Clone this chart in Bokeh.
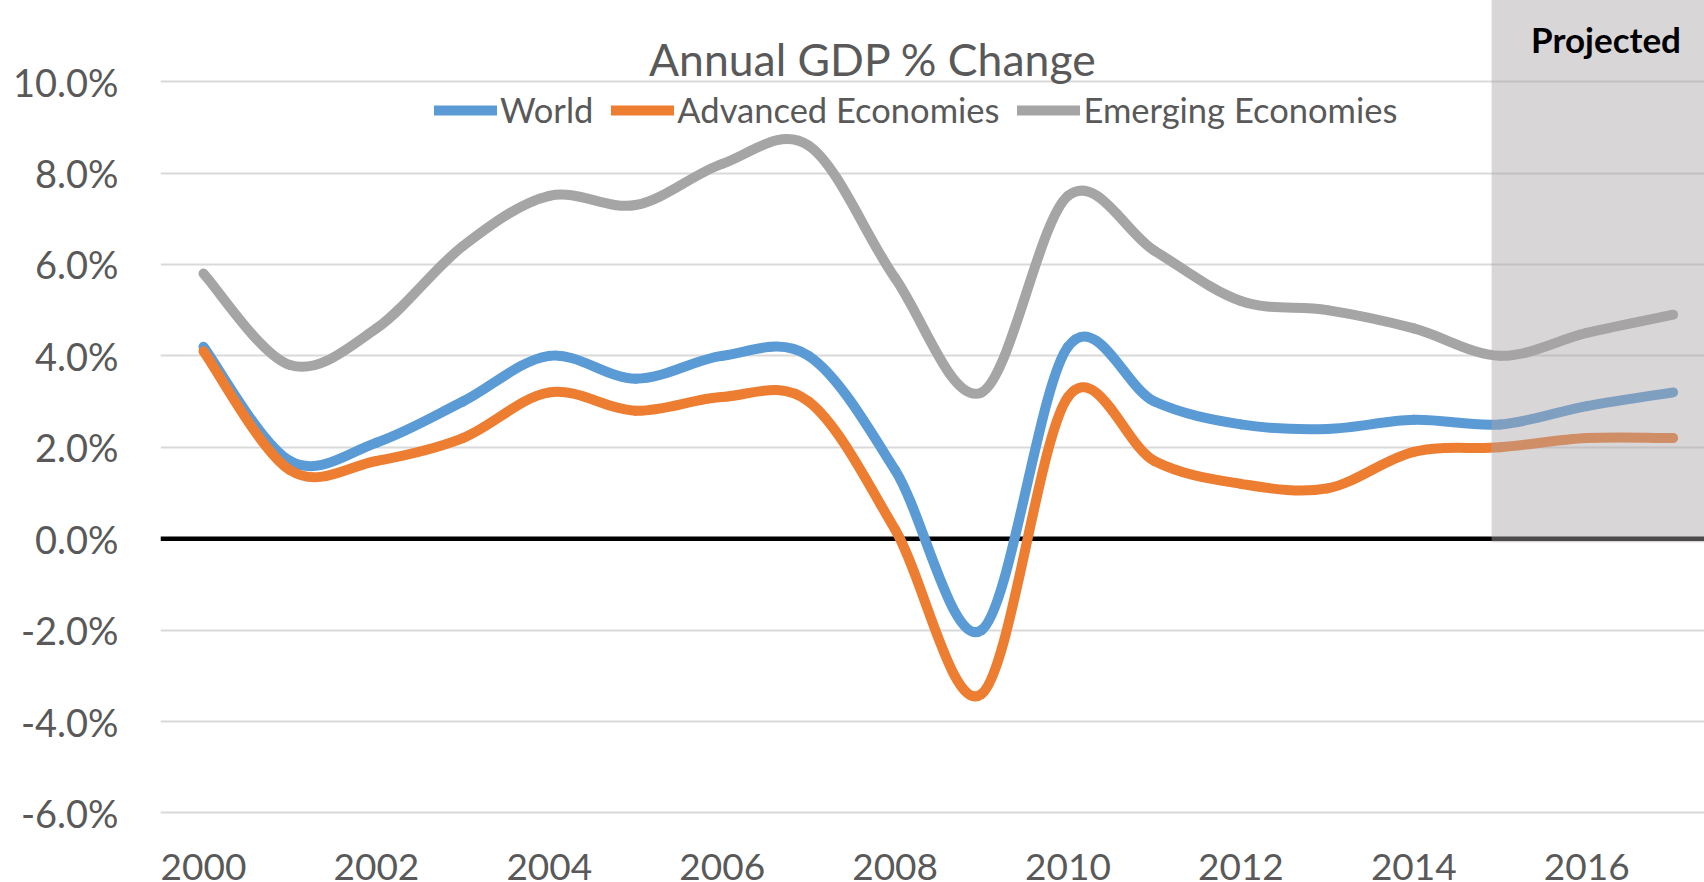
from bokeh.plotting import figure
from bokeh.models import (Range1d, FixedTicker, PrintfTickFormatter, Span, Label,
                          Legend, LegendItem)
from bokeh.embed import file_html
from bokeh.resources import INLINE

# ---------------- data ----------------
years = list(range(2000, 2018))
world = [4.2, 1.7, 2.1, 3.0, 4.0, 3.5, 4.0, 4.0, 1.5, -2.0, 4.2, 3.0, 2.5, 2.4, 2.6, 2.5, 2.9, 3.2]
advanced = [4.1, 1.5, 1.7, 2.2, 3.2, 2.8, 3.1, 3.0, 0.2, -3.4, 3.1, 1.7, 1.2, 1.1, 1.9, 2.0, 2.2, 2.2]
emerging = [5.8, 3.8, 4.6, 6.4, 7.5, 7.3, 8.2, 8.6, 5.7, 3.2, 7.5, 6.3, 5.2, 5.0, 4.6, 4.0, 4.5, 4.9]
series_names = ["World", "Advanced Economies", "Emerging Economies"]
series_colors = ["#5B9BD5", "#ED7D31", "#A5A5A5"]
y_ticks = [-6, -4, -2, 0, 2, 4, 6, 8, 10]
x_ticks = [2000, 2002, 2004, 2006, 2008, 2010, 2012, 2014, 2016]
projected_from = 2014.9
title_text = "Annual GDP % Change"
projected_text = "Projected"

TEXT = "#595959"
FONT = "Lato"

X0 = 1999.5026
X1 = 2017.3626
Y0 = -6.822
Y1 = 11.774
p = figure(width=1704, height=882, output_backend="svg", toolbar_location=None,
           x_range=Range1d(X0, X1), y_range=Range1d(Y0, Y1),
           min_border_left=160, min_border_right=0, min_border_top=0,
           min_border_bottom=0)
p.title.visible = False
p.outline_line_color = None
p.background_fill_color = "white"
p.border_fill_color = "white"

# axes
for ax in (p.xaxis, p.yaxis):
    ax.axis_line_color = None
    ax.major_tick_line_color = None
    ax.minor_tick_line_color = None
    ax.major_tick_out = 0
    ax.major_tick_in = 0
    ax.major_label_text_font = FONT
    ax.major_label_text_color = TEXT
p.xaxis.major_label_text_font_size = "37px"
p.yaxis.major_label_text_font_size = "38px"
p.xaxis.ticker = FixedTicker(ticks=x_ticks)
p.xaxis.major_label_standoff = 3
p.yaxis.ticker = FixedTicker(ticks=y_ticks)
p.yaxis.formatter = PrintfTickFormatter(format="%.1f%%")
p.yaxis.major_label_standoff = 42

p.xgrid.visible = False
p.ygrid.ticker = FixedTicker(ticks=y_ticks)
p.ygrid.grid_line_color = "#D9D9D9"
p.ygrid.grid_line_width = 2

zero = Span(location=0, dimension="width", line_color="black", line_width=4.5,
            level="underlay")
p.add_layout(zero)


# smoothed lines (Excel-like smoothing: cubic Bezier segments through the points)
def smooth_segments(xs, ys):
    n = len(xs)
    seg = dict(x0=[], y0=[], x1=[], y1=[], cx0=[], cy0=[], cx1=[], cy1=[])
    for i in range(n - 1):
        a = max(i - 1, 0)
        d = min(i + 2, n - 1)
        seg["x0"].append(xs[i]); seg["y0"].append(ys[i])
        seg["x1"].append(xs[i + 1]); seg["y1"].append(ys[i + 1])
        seg["cx0"].append(xs[i] + (xs[i + 1] - xs[a]) / 6.0)
        seg["cy0"].append(ys[i] + (ys[i + 1] - ys[a]) / 6.0)
        seg["cx1"].append(xs[i + 1] - (xs[d] - xs[i]) / 6.0)
        seg["cy1"].append(ys[i + 1] - (ys[d] - ys[i]) / 6.0)
    return seg


items = []
for name, vals, col in zip(series_names, [world, advanced, emerging], series_colors):
    r = p.bezier(source=smooth_segments(years, vals), x0="x0", y0="y0", x1="x1", y1="y1",
                 cx0="cx0", cy0="cy0", cx1="cx1", cy1="cy1",
                 line_color=col, line_width=10, line_cap="round")
    items.append(LegendItem(label=name, renderers=[r]))

# projected shading (semi-transparent, drawn over the lines)
p.quad(left=[projected_from], right=[X1 + 1], bottom=[-0.08], top=[Y1 + 1],
       fill_color=(171, 164, 168), fill_alpha=0.45, line_color=None, level="annotation")

legend = Legend(items=items, orientation="horizontal", location=(274, 720),
                padding=0, margin=0, spacing=18, label_standoff=3,
                glyph_width=63, glyph_height=40, label_height=40,
                label_text_font=FONT, label_text_font_size="34.5px",
                label_text_color=TEXT, background_fill_alpha=0,
                border_line_color=None)
p.add_layout(legend)

p.add_layout(Label(x=2007.744, y=10.50, text=title_text, text_align="center",
                   text_baseline="alphabetic", text_font=FONT,
                   text_font_size="44.5px", text_color=TEXT))
p.add_layout(Label(x=2016.223, y=10.94, text=projected_text, text_align="center",
                   text_baseline="alphabetic", text_font=FONT, text_font_size="35px",
                   text_font_style="bold", text_color="black"))

open("out.html", "w").write(file_html(p, INLINE))
